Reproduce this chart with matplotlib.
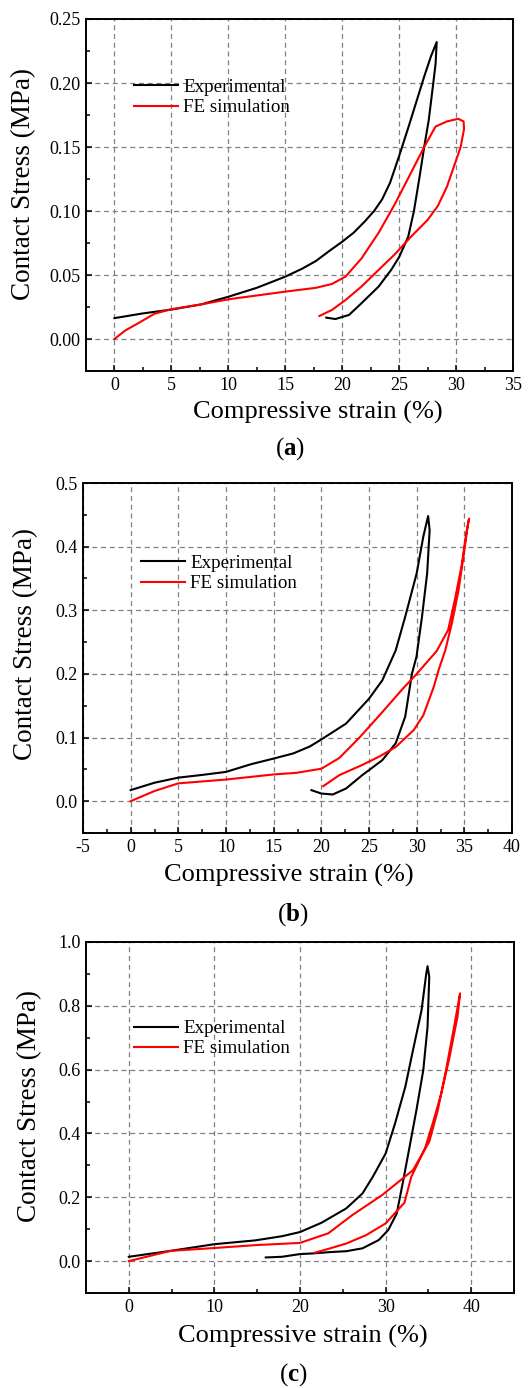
import matplotlib
matplotlib.use("Agg")
from matplotlib import pyplot as plt
from matplotlib.ticker import MultipleLocator, FormatStrFormatter

plt.rcParams["font.family"] = ["Liberation Serif", "DejaVu Serif"]
plt.rcParams["mathtext.fontset"] = "custom"
plt.rcParams["mathtext.rm"] = "Liberation Serif"
plt.rcParams["mathtext.bf"] = "Liberation Serif:bold"
plt.rcParams["axes.unicode_minus"] = False

# ---- panel (a) ----
a_exp_x = [0, 2.5, 5, 7.6, 10, 12.5, 15, 16.5, 17.7, 18.9, 20.0, 21.0, 22.0, 22.8, 23.5, 24.2,
           25.0, 25.8, 26.5, 27.2, 27.8, 28.3,
           28.2, 28.0, 27.6, 27.2, 26.8, 26.3, 25.8, 25.0, 24.3, 23.2, 21.7, 20.6, 19.4, 18.6]
a_exp_y = [0.0163, 0.020, 0.023, 0.027, 0.033, 0.040, 0.0487, 0.055, 0.061, 0.069, 0.076, 0.083,
           0.092, 0.100, 0.109, 0.122, 0.143, 0.165, 0.185, 0.205, 0.221, 0.232,
           0.215, 0.200, 0.171, 0.150, 0.127, 0.100, 0.080, 0.064, 0.054, 0.041, 0.028, 0.0188,
           0.0156, 0.0167]
a_fe_x = [0, 0.95, 2.1, 3.5, 5, 7.6, 10, 12.5, 15, 17.7, 19.1, 20.3, 21.7, 23.2, 24.6, 26.05,
          27.2, 28.2, 29.2, 30.2, 30.66, 30.7,
          30.4, 29.9, 29.2, 28.4, 27.5, 26.05, 24.6, 23.2, 21.7, 20.3, 19.1, 18.0]
a_fe_y = [0, 0.0067, 0.0124, 0.0197, 0.0233, 0.027, 0.031, 0.034, 0.037, 0.040, 0.043, 0.0488,
          0.063, 0.083, 0.105, 0.13, 0.15, 0.166, 0.170, 0.172, 0.170, 0.164,
          0.150, 0.137, 0.119, 0.104, 0.093, 0.080, 0.066, 0.054, 0.041, 0.0305, 0.0227, 0.018]

# ---- panel (b) ----
b_exp_x = [0, 2.5, 5, 7.35, 10, 12.6, 15, 17.05, 18.8, 20, 22.6, 25, 26.4, 27.8, 28.8, 30.0,
           30.7, 31.2,
           31.36, 31.1, 30.56, 29.98, 29.5, 28.8, 27.8, 26.4, 24.3, 22.6, 21.2, 20, 18.96]
b_exp_y = [0.0174, 0.029, 0.037, 0.041, 0.046, 0.058, 0.067, 0.075, 0.086, 0.097, 0.122, 0.161,
           0.19, 0.237, 0.29, 0.358, 0.416, 0.448,
           0.426, 0.358, 0.29, 0.227, 0.2, 0.133, 0.091, 0.0645, 0.041, 0.020, 0.0105, 0.012,
           0.0173]
b_fe_x = [0, 2.5, 5, 10, 15, 17.4, 20, 21.9, 24.0, 26.4, 28.5, 30, 32.1, 33.3, 34.0, 34.7, 35.2,
          35.5,
          35.4, 34.9, 34.4, 33.7, 33.0, 32.3, 31.8, 30.7, 29.7, 27.8, 26.06, 24.3, 21.9, 20.2]
b_fe_y = [0, 0.016, 0.028, 0.034, 0.042, 0.0446, 0.051, 0.068, 0.1, 0.14, 0.176, 0.2, 0.236,
          0.269, 0.316, 0.369, 0.421, 0.444,
          0.437, 0.384, 0.332, 0.28, 0.237, 0.206, 0.18, 0.135, 0.112, 0.085, 0.07, 0.057,
          0.041, 0.0236]

# ---- panel (c) ----
c_exp_x = [0, 4.87, 10, 14.8, 17.9, 20, 22.5, 23.4, 25.4, 27.3, 28.5, 30, 31.1, 32.3, 33.2,
           34.2, 34.75, 34.9,
           35.1, 34.9, 34.4, 33.6, 32.8, 32.07, 31.3, 30.3, 29.2, 27.3, 25.4, 23.4, 21.5, 20,
           17.9, 16.0]
c_exp_y = [0.0135, 0.032, 0.053, 0.065, 0.078, 0.091, 0.12, 0.134, 0.165, 0.212, 0.264, 0.337,
           0.431, 0.546, 0.661, 0.786, 0.901, 0.924,
           0.891, 0.734, 0.598, 0.473, 0.358, 0.254, 0.149, 0.097, 0.066, 0.040, 0.031, 0.028,
           0.024, 0.022, 0.0135, 0.0114]
c_fe_x = [0, 4.87, 10, 14.8, 20, 23.3, 26.1, 29.6, 33.2, 35.1, 36.1, 37.05, 38.0, 38.7,
          38.4, 37.4, 36.5, 35.5, 34.6, 33.0, 32.2, 30.0, 27.7, 25.4, 23.4, 21.7]
c_fe_y = [0, 0.032, 0.041, 0.05, 0.057, 0.087, 0.144, 0.207, 0.285, 0.374, 0.473, 0.598, 0.734,
          0.839,
          0.766, 0.63, 0.525, 0.431, 0.353, 0.264, 0.183, 0.118, 0.081, 0.055, 0.039, 0.026]

W, H = 529, 1388
fig = plt.figure(figsize=(W / 100, H / 100), dpi=100)


def px_rect(left, top, right, bottom):
    return [left / W, 1 - bottom / H, (right - left) / W, (bottom - top) / H]


def draw_panel(rect, exp_x, exp_y, fe_x, fe_y, xlim, ylim, xstep, ystep, yfmt,
               leg_anchor, xlab_pos, ylab_pos, letter, letter_xy):
    ax = fig.add_axes(rect)
    ax.plot(exp_x, exp_y, color="black", lw=1.5, label="Experimental")
    ax.plot(fe_x, fe_y, color="red", lw=1.5, label="FE simulation")
    ax.set_xlim(*xlim)
    ax.set_ylim(*ylim)

    ax.xaxis.set_major_locator(MultipleLocator(xstep))
    ax.xaxis.set_minor_locator(MultipleLocator(xstep / 2))
    ax.yaxis.set_major_locator(MultipleLocator(ystep))
    ax.yaxis.set_minor_locator(MultipleLocator(ystep / 2))
    ax.yaxis.set_major_formatter(FormatStrFormatter(yfmt))
    ax.tick_params(which="both", direction="in", top=False, right=False,
                   labelsize=13, pad=4, width=1.1)
    ax.tick_params(which="major", length=4)
    ax.tick_params(which="minor", length=3)
    ax.grid(True, which="major", color="#808080", linestyle=(0, (4, 3)), lw=0.9)
    for s in ax.spines.values():
        s.set_linewidth(1.4)

    ax.set_xlabel("Compressive strain (%)", fontsize=19, va="center")
    ax.xaxis.set_label_coords(*xlab_pos)
    ax.set_ylabel("Contact Stress (MPa)", fontsize=19.5, va="center")
    ax.yaxis.set_label_coords(*ylab_pos)

    ax.legend(loc="upper left", bbox_to_anchor=leg_anchor, frameon=False, fontsize=13.7,
              handlelength=2.3, handletextpad=0.3, labelspacing=0.15,
              borderpad=0, borderaxespad=0)

    fig.text(letter_xy[0] / W, 1 - letter_xy[1] / H, r"($\mathbf{%s}$)" % letter,
             ha="center", va="center", fontsize=18)
    return ax


draw_panel(px_rect(86, 19, 513, 371), a_exp_x, a_exp_y, a_fe_x, a_fe_y,
           (-2.5, 35), (-0.025, 0.25), 5, 0.05, "%.2f",
           (0.112, 0.83), (0.543, -0.119), (-0.145, 0.531), "a", (290, 449))
draw_panel(px_rect(83, 483, 512, 833), b_exp_x, b_exp_y, b_fe_x, b_fe_y,
           (-5, 40), (-0.05, 0.5), 5, 0.1, "%.1f",
           (0.135, 0.795), (0.48, -0.12), (-0.133, 0.54), "b", (293, 915))
draw_panel(px_rect(86, 942, 514, 1293), c_exp_x, c_exp_y, c_fe_x, c_fe_y,
           (-5, 45), (-0.1, 1.0), 10, 0.2, "%.1f",
           (0.112, 0.778), (0.507, -0.125), (-0.131, 0.533), "c", (293, 1375))

fig.savefig("out.png", dpi=100)
